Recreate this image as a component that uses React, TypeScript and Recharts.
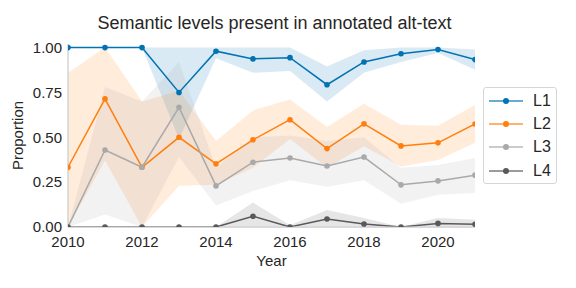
import React from "react";
import { ComposedChart, Line, Area, XAxis, YAxis, Label } from "recharts";

const years = [2010, 2011, 2012, 2013, 2014, 2015, 2016, 2017, 2018, 2019, 2020, 2021];

const l1 = [1.0, 1.0, 1.0, 0.75, 0.98, 0.937, 0.944, 0.793, 0.92, 0.966, 0.989, 0.933];
const l1Low = [1.0, 1.0, 1.0, 0.49, 0.94, 0.86, 0.87, 0.7, 0.86, 0.92, 0.97, 0.877];
const l1High = [1.0, 1.0, 1.0, 1.0, 1.0, 1.0, 1.0, 0.895, 0.985, 1.0, 1.0, 0.99];

const l2 = [0.333, 0.714, 0.333, 0.5, 0.352, 0.486, 0.598, 0.437, 0.575, 0.452, 0.469, 0.574];
const l2Low = [0, 0.37, 0, 0.23, 0.235, 0.33, 0.49, 0.33, 0.45, 0.337, 0.374, 0.47];
const l2High = [0.86, 1.0, 0.7, 0.76, 0.48, 0.65, 0.71, 0.557, 0.687, 0.57, 0.564, 0.68];

const l3 = [0, 0.429, 0.333, 0.667, 0.229, 0.361, 0.385, 0.34, 0.39, 0.235, 0.257, 0.289];
const l3Low = [0, 0.07, 0, 0.39, 0.12, 0.2, 0.26, 0.225, 0.26, 0.13, 0.18, 0.19];
const l3High = [0, 0.78, 0.7, 0.92, 0.33, 0.5, 0.51, 0.48, 0.5, 0.33, 0.345, 0.385];

const l4 = [0, 0, 0, 0, 0, 0.06, 0, 0.045, 0.017, 0, 0.02, 0.015];
const l4Low = [0, 0, 0, 0, 0, 0, 0, 0, 0, 0, 0, 0];
const l4High = [0, 0, 0, 0, 0, 0.136, 0.01, 0.095, 0.05, 0, 0.05, 0.04];

const xTicks = [2010, 2012, 2014, 2016, 2018, 2020];
const yTicks = [0, 0.25, 0.5, 0.75, 1.0];

const seriesNames = ["L1", "L2", "L3", "L4"];
const colors = ["#0173b2", "#ff7f0e", "#a9a9a9", "#595959"];

const data = years.map((year, i) => ({
  year,
  L1: l1[i],
  L1band: [l1Low[i], l1High[i]],
  L2: l2[i],
  L2band: [l2Low[i], l2High[i]],
  L3: l3[i],
  L3band: [l3Low[i], l3High[i]],
  L4: l4[i],
  L4band: [l4Low[i], l4High[i]],
}));

const FONT = '"Liberation Sans", Arial, sans-serif';
const TEXT = "#262626";

function LegendBox() {
  return (
    <div
      style={{
        position: "absolute",
        left: 483,
        top: 87,
        width: 72,
        height: 95,
        border: "1px solid #d6d6d6",
        borderRadius: 3,
        background: "#fff",
        fontFamily: FONT,
        color: TEXT,
        fontSize: 16,
      }}
    >
      {seriesNames.map((name, i) => (
        <div
          key={name}
          style={{ position: "absolute", left: 0, top: 2 + i * 23.2, height: 23, width: 72 }}
        >
          <svg width={40} height={23} style={{ position: "absolute", left: 0, top: 0 }}>
            <line x1={5} x2={39} y1={11} y2={11} stroke={colors[i]} strokeWidth={1.6} strokeOpacity={0.8} />
            <circle cx={22} cy={11} r={3} fill={colors[i]} />
          </svg>
          <span style={{ position: "absolute", left: 49, top: 2, lineHeight: "18px" }}>{name}</span>
        </div>
      ))}
    </div>
  );
}

const YLabel = () => (
  <text
    x={17}
    y={135.5}
    transform="rotate(-90 17 135.5)"
    textAnchor="middle"
    dominantBaseline="central"
    fill={TEXT}
    fontSize={15}
    fontFamily={FONT}
  >
    Proportion
  </text>
);

export default function App() {
  return (
    <div
      style={{
        position: "absolute",
        left: 0,
        top: 0,
        width: 576,
        height: 288,
        background: "#fff",
        fontFamily: FONT,
      }}
    >
      <div
        style={{
          position: "absolute",
          left: 68,
          width: 413,
          top: 13,
          textAlign: "center",
          fontSize: 18,
          color: TEXT,
        }}
      >
        Semantic levels present in annotated alt-text
      </div>
      <ComposedChart
        width={576}
        height={288}
        data={data}
        margin={{ top: 44, right: 101, bottom: 21, left: 8 }}
        style={{ position: "absolute", left: 0, top: 0 }}
      >
        <XAxis
          dataKey="year"
          type="number"
          domain={[2010, 2021]}
          ticks={xTicks}
          allowDataOverflow
          height={40}
          tickLine={false}
          tickSize={6}
          tickMargin={3}
          axisLine={{ stroke: "#cccccc", strokeWidth: 1.25 }}
          tick={{ fill: TEXT, fontSize: 15, fontFamily: FONT }}
        >
          <Label value="Year" position="insideBottom" offset={1} fill={TEXT} fontSize={15} fontFamily={FONT} />
        </XAxis>
        <YAxis
          type="number"
          domain={[0, 1.02]}
          ticks={yTicks}
          allowDataOverflow
          width={60}
          tickLine={false}
          tickSize={4}
          tickMargin={2}
          axisLine={{ stroke: "#cccccc", strokeWidth: 1.25 }}
          tick={{ fill: TEXT, fontSize: 15, fontFamily: FONT }}
          tickFormatter={(v: number) => v.toFixed(2)}
        >
          <Label content={<YLabel />} />
        </YAxis>
        {seriesNames.map((name, i) => (
          <Area
            key={name + "band"}
            dataKey={name + "band"}
            type="linear"
            stroke="none"
            fill={colors[i]}
            fillOpacity={0.15}
            isAnimationActive={false}
            activeDot={false}
          />
        ))}
        {seriesNames.map((name, i) => (
          <Line
            key={name}
            dataKey={name}
            type="linear"
            stroke={colors[i]}
            strokeWidth={1.5}
            dot={{ r: 2.8, fill: colors[i], stroke: colors[i], strokeWidth: 0 }}
            activeDot={false}
            isAnimationActive={false}
          />
        ))}
      </ComposedChart>
      <LegendBox />
    </div>
  );
}
